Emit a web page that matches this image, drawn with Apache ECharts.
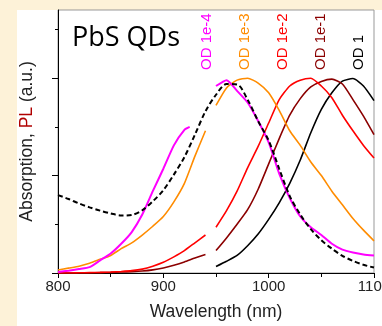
<!DOCTYPE html>
<html>
<head>
<meta charset="utf-8">
<script src="https://cdn.jsdelivr.net/npm/echarts@6/dist/echarts.min.js"></script>
<style>
  html, body { margin: 0; padding: 0; background: #fdf2d8; overflow: hidden; }
  /* a bit wider than the window so the last tick label gets cut at the edge */
  #chart-container { width: 400px; height: 326px; }
</style>
</head>
<body>
<div id="chart-container"></div>
<script>
// wavelengths (nm)
const wlLow = [800, 810, 820, 830, 840, 850, 860, 870, 880, 890, 900, 910, 920, 930, 940];
const wlMagLow = [800, 810, 820, 830, 840, 850, 860, 870, 880, 890, 900, 910, 920, 925];
const wlHigh = [950, 960, 970, 980, 990, 1000, 1010, 1020, 1030, 1040, 1050, 1060, 1070, 1080, 1090, 1100];
const wlAbs = [800, 810, 820, 830, 840, 850, 860, 870, 880, 890, 900, 910, 920, 930, 940, 950, 960, 970,
    980, 990, 1000, 1010, 1020, 1030, 1040, 1050, 1060, 1070, 1080, 1090, 1100];

// absorption (dashed)
const absorption = [0.40, 0.38, 0.357, 0.337, 0.32, 0.306, 0.295, 0.298, 0.322, 0.368, 0.425, 0.505, 0.595, 0.71, 0.83,
    0.915, 0.97, 0.968, 0.89, 0.78, 0.68, 0.535, 0.395, 0.30, 0.225, 0.168, 0.125, 0.088, 0.062, 0.042, 0.028];

// PL, two detector ranges each
const od4Low = [0.005, 0.012, 0.02, 0.03, 0.065, 0.1, 0.15, 0.21, 0.3, 0.42, 0.535, 0.655, 0.735, 0.75];
const od4High = [0.96, 0.99, 0.935, 0.875, 0.78, 0.67, 0.51, 0.385, 0.29, 0.235, 0.195, 0.15, 0.12, 0.105, 0.095, 0.09];
const od3Low = [0.015, 0.025, 0.035, 0.05, 0.07, 0.09, 0.125, 0.155, 0.195, 0.24, 0.29, 0.365, 0.46, 0.6, 0.73];
const od3High = [0.86, 0.95, 0.99, 1.0, 0.975, 0.925, 0.835, 0.73, 0.655, 0.57, 0.5, 0.42, 0.35, 0.28, 0.22, 0.165];
const od2Low = [0, 0, 0.001, 0.002, 0.003, 0.005, 0.008, 0.012, 0.02, 0.035, 0.055, 0.083, 0.115, 0.155, 0.195];
const od2High = [0.235, 0.32, 0.42, 0.54, 0.65, 0.77, 0.89, 0.96, 0.99, 1.0, 0.96, 0.9, 0.81, 0.73, 0.655, 0.59];
const od1Low = [0, 0, 0, 0.001, 0.002, 0.003, 0.005, 0.007, 0.01, 0.016, 0.026, 0.04, 0.057, 0.077, 0.095];
const od1High = [0.115, 0.18, 0.25, 0.325, 0.43, 0.56, 0.69, 0.81, 0.895, 0.955, 0.983, 0.995, 0.97, 0.89, 0.805, 0.71];
const od0High = [0.033, 0.06, 0.09, 0.14, 0.2, 0.275, 0.36, 0.46, 0.58, 0.72, 0.84, 0.925, 0.985, 0.998, 0.96, 0.885];

// tick positions
const yMajorTicks = [0, 0.5, 1.0];
const yMinorTicks = [0.25, 0.75, 1.25];

const odLabels = ["OD 1e-4", "OD 1e-3", "OD 1e-2", "OD 1e-1", "OD 1"];
const odColors = ["#ff00ff", "#ff8c00", "#ff0000", "#8b0000", "#000000"];

const chart = echarts.init(document.getElementById("chart-container"));

function pairs(xs, ys) {
    return xs.map((x, i) => [x, ys[i]]);
}

function plLine(xs, ys, color, width) {
    return {
        type: "line",
        data: pairs(xs, ys),
        showSymbol: false,
        smooth: 0.2,
        lineStyle: { color: color, width: width || 1.6 },
        z: 3
    };
}

const font = "Liberation Sans, Arial, sans-serif";

const options = {
    animation: false,
    backgroundColor: "#fdf2d8",
    grid: {
        show: true,
        left: 58,
        top: 10,
        right: 26,
        bottom: 51,
        borderColor: "#999",
        borderWidth: 1
    },
    xAxis: {
        type: "value",
        min: 800,
        max: 1100,
        interval: 100,
        name: "Wavelength (nm)",
        nameLocation: "middle",
        nameGap: 30,
        nameTextStyle: { fontSize: 17.5, fontFamily: font, color: "#222" },
        axisLine: { show: true, lineStyle: { color: "#000", width: 1 } },
        axisTick: { show: true, length: 5, lineStyle: { color: "#000" } },
        minorTick: { show: true, splitNumber: 2, length: 4, lineStyle: { color: "#000" } },
        splitLine: { show: false },
        axisLabel: {
            fontSize: 15, fontFamily: font, color: "#222", margin: 6,
            formatter: (v) => String(v)
        }
    },
    yAxis: [
        {
            type: "value",
            min: 0,
            max: 1.35,
            position: "left",
            name: "Absorption, {pl|PL} (a.u.)",
            nameLocation: "middle",
            nameGap: 22,
            nameTextStyle: {
                fontSize: 17.5, fontFamily: font, color: "#222",
                rich: { pl: { fontSize: 17.5, fontFamily: font, color: "#b00000" } }
            },
            axisLine: { show: true, lineStyle: { color: "#000", width: 1 } },
            axisTick: { show: true, length: 6, customValues: yMajorTicks, lineStyle: { color: "#000" } },
            splitLine: { show: false },
            axisLabel: { show: false }
        },
        {
            type: "value",
            min: 0,
            max: 1.35,
            position: "left",
            axisLine: { show: false },
            axisTick: { show: true, length: 3, customValues: yMinorTicks, lineStyle: { color: "#000" } },
            splitLine: { show: false },
            axisLabel: { show: false }
        }
    ],
    graphic: [
        {
            type: "rect",
            shape: { x: 17, y: 10, width: 383, height: 316 },
            style: { fill: "#ffffff" },
            z: -10
        },
        {
            type: "text",
            x: 72,
            y: 38,
            style: {
                text: "PbS QDs",
                fontSize: 27,
                fontFamily: "Open Sans, sans-serif",
                fill: "#000",
                textVerticalAlign: "middle"
            },
            z: 10
        }
    ].concat(odLabels.map((t, i) => ({
        type: "text",
        x: 207 + i * 38,
        y: 70,
        rotation: Math.PI / 2,
        style: {
            text: t,
            fontSize: 15,
            fontFamily: font,
            fill: odColors[i],
            textAlign: "left",
            textVerticalAlign: "middle"
        },
        z: 10
    }))),
    series: [
        plLine(wlLow, od1Low, odColors[3]),
        plLine(wlLow, od2Low, odColors[2]),
        plLine(wlLow, od3Low, odColors[1]),
        plLine(wlMagLow, od4Low, odColors[0], 2),
        plLine(wlHigh, od0High, odColors[4]),
        plLine(wlHigh, od1High, odColors[3]),
        plLine(wlHigh, od2High, odColors[2]),
        plLine(wlHigh, od3High, odColors[1]),
        plLine(wlHigh, od4High, odColors[0], 2),
        {
            type: "line",
            data: pairs(wlAbs, absorption),
            showSymbol: false,
            smooth: 0.3,
            lineStyle: { color: "#000", width: 2, type: [5, 3] },
            z: 4
        }
    ]
};

chart.setOption(options);
</script>
</body>
</html>
